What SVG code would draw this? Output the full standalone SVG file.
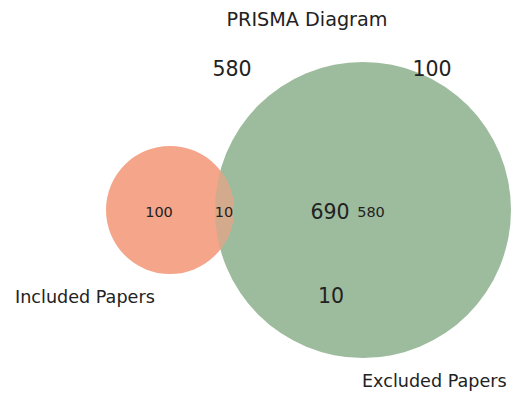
<svg xmlns="http://www.w3.org/2000/svg" width="525" height="393" viewBox="0 0 525 393">
<style>
text{font-family:"DejaVu Sans",sans-serif;fill:#222}
.sm{font-size:14.5px;text-anchor:middle}
.md{font-size:20.5px;text-anchor:middle}
.lbl{font-size:17.6px}
</style>
<defs>
<clipPath id="cb"><circle cx="363" cy="210" r="148"/></clipPath>
</defs>
<rect width="525" height="393" fill="#fff"/>
<g id="excluded"><circle cx="363" cy="210" r="148" fill="#9dbb9d"/></g>
<g id="included"><circle cx="170" cy="210" r="64" fill="#f4a58a"/></g>
<g id="overlap"><circle cx="170" cy="210" r="64" fill="#d4aa8c" clip-path="url(#cb)"/></g>
<g id="connectors"/>
<text x="307" y="26" font-size="19.2" text-anchor="middle">PRISMA Diagram</text>
<text class="md" x="232" y="76">580</text>
<text class="md" x="432" y="76">100</text>
<text class="sm" x="159" y="217">100</text>
<text class="sm" x="224" y="217">10</text>
<text class="md" x="330" y="219">690</text>
<text class="sm" x="371" y="217">580</text>
<text class="md" x="331" y="303">10</text>
<text class="lbl" x="15" y="303">Included Papers</text>
<text class="lbl" x="362" y="387">Excluded Papers</text>
</svg>
